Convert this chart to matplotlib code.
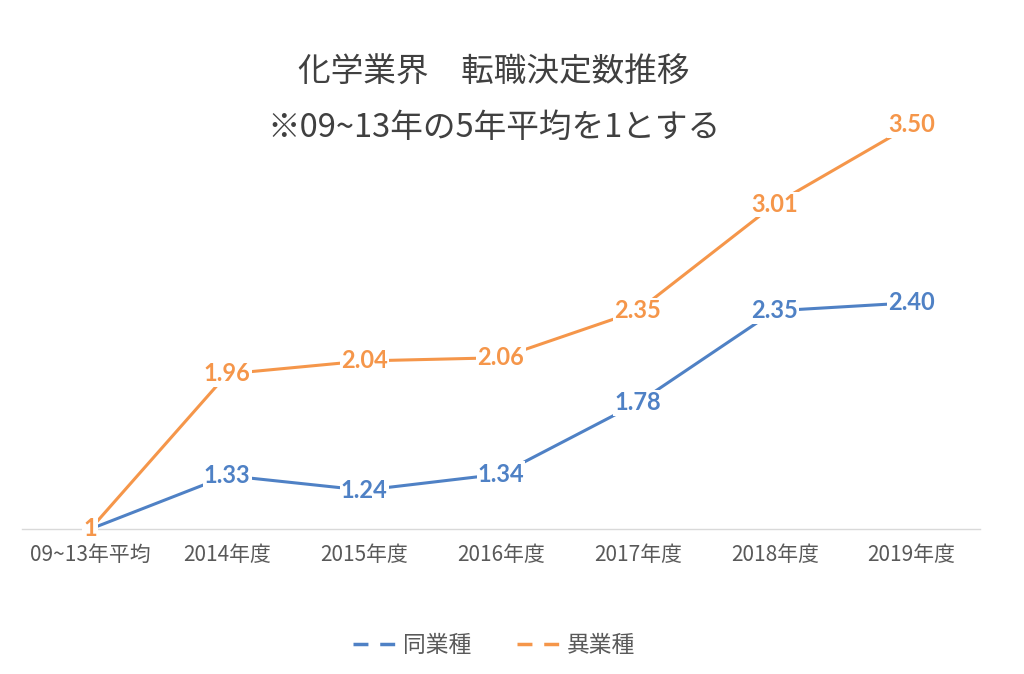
import matplotlib
matplotlib.use("Agg")
import matplotlib.pyplot as plt
from matplotlib.lines import Line2D

plt.rcParams['font.family'] = ['Noto Sans CJK JP', 'DejaVu Sans']

categories = ["09~13年平均", "2014年度", "2015年度", "2016年度", "2017年度", "2018年度", "2019年度"]
same_industry = [1.00, 1.33, 1.24, 1.34, 1.78, 2.35, 2.40]
diff_industry = [1.00, 1.96, 2.04, 2.06, 2.35, 3.01, 3.50]
labels_same = ["", "1.33", "1.24", "1.34", "1.78", "2.35", "2.40"]
labels_diff = ["1", "1.96", "2.04", "2.06", "2.35", "3.01", "3.50"]
series_names = ["同業種", "異業種"]
title_lines = ["化学業界　転職決定数推移", "※09~13年の5年平均を1とする"]

blue = "#4F81C5"
orange = "#F5964A"
gray_text = "#595959"

W, H = 1024, 674
fig = plt.figure(figsize=(W / 100, H / 100), dpi=100)
ax_left, ax_right, ax_top, ax_bottom = 22, 980, 100, 529
ax = fig.add_axes([ax_left / W, 1 - ax_bottom / H, (ax_right - ax_left) / W, (ax_bottom - ax_top) / H])

x = list(range(len(categories)))
ax.plot(x, same_industry, color=blue, lw=2.2, solid_capstyle='round', zorder=2, clip_on=False)
ax.plot(x, diff_industry, color=orange, lw=2.2, solid_capstyle='round', zorder=2, clip_on=False)

ax.set_xlim(-0.5, len(categories) - 0.5)
ax.set_ylim(1.0, 1.0 + (ax_bottom - ax_top) / 161.6)

def add_labels(vals, labs, color):
    for xi, v, t in zip(x, vals, labs):
        if not t:
            continue
        ax.text(xi, v, t, ha='center', va='center', color=color, fontsize=17,
                fontweight='bold', family=['Lato', 'DejaVu Sans'], zorder=5, clip_on=False,
                bbox=dict(boxstyle='square,pad=0.05', fc='white', ec='none'))

add_labels(same_industry, labels_same, blue)
add_labels(diff_industry, labels_diff, orange)

for s in ['top', 'right', 'left']:
    ax.spines[s].set_visible(False)
ax.spines['bottom'].set_color('#d9d9d9')
ax.spines['bottom'].set_linewidth(1.0)
ax.spines['bottom'].set_zorder(1)
ax.set_yticks([])
ax.set_xticks(x)
ax.set_xticklabels(categories, fontsize=15, color=gray_text)
ax.tick_params(axis='x', length=0, pad=11)

fig.text(494 / W, 1 - 73 / H, title_lines[0], ha='center', va='center', fontsize=23.5, color='#404040')
fig.text(494 / W, 1 - 128 / H, title_lines[1], ha='center', va='center', fontsize=23.5, color='#404040')

handles = [Line2D([0], [0], color=blue, lw=2.5, linestyle=(0, (4.3, 3.4))),
           Line2D([0], [0], color=orange, lw=2.5, linestyle=(0, (4.3, 3.4)))]
fig.legend(handles, series_names, loc='center', bbox_to_anchor=(494 / W, 1 - 645 / H), ncol=2,
           frameon=False, fontsize=16.4, labelcolor=gray_text, handlelength=2.0, handletextpad=0.2,
           columnspacing=2.0)

fig.savefig("out.png", dpi=100, facecolor='white')
